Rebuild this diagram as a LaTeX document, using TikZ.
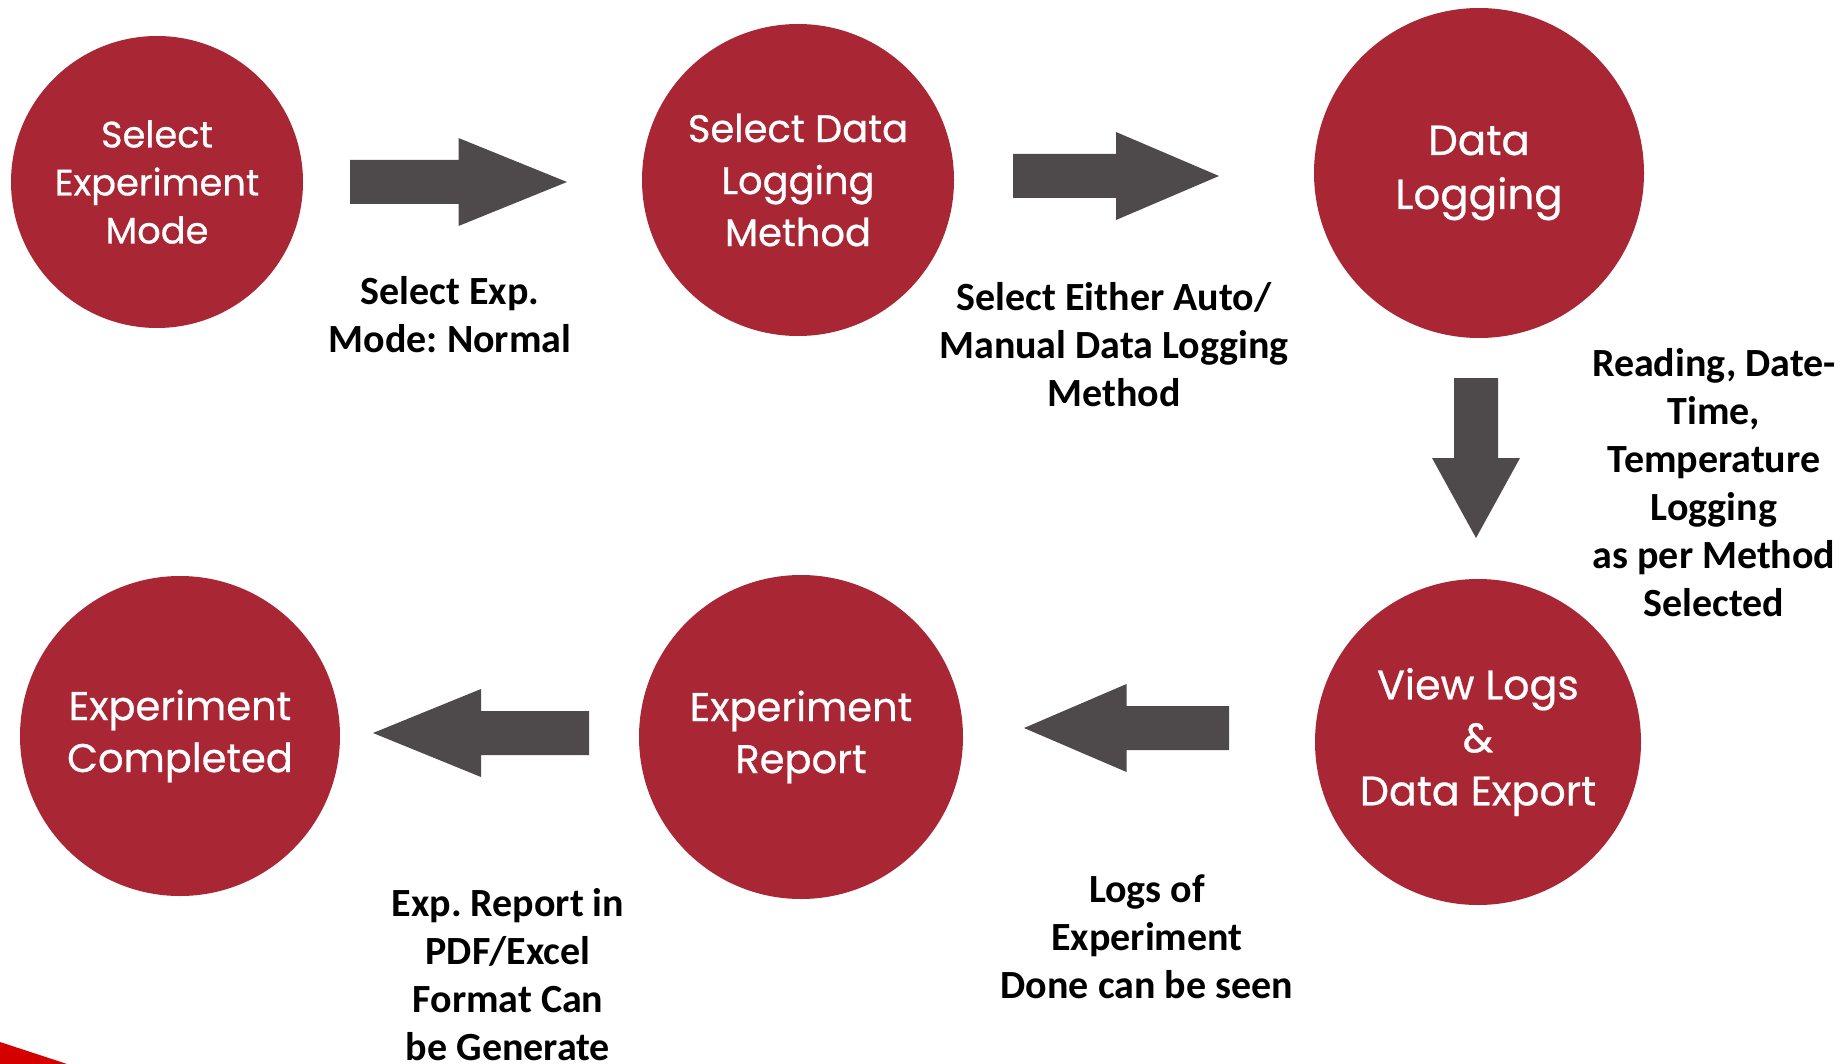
\documentclass[tikz,border=0pt]{standalone}
\usepackage{fontspec}
\setmainfont{Carlito}
\newfontfamily\circfont[FakeBold=0.6]{Poppins}
\definecolor{circred}{RGB}{169,39,52}
\definecolor{arrowgray}{RGB}{78,74,75}
\definecolor{cornerred}{RGB}{212,0,0}
\frenchspacing

\tikzset{
  stage/.style={circle,fill=circred,text=white,inner sep=0pt,align=center,
    font=\circfont\fontsize{20}{26}\selectfont},
  note/.style={align=center,font=\bfseries\fontsize{20}{24}\selectfont},
  pics/blockarrow/.style={code={
    \fill[arrowgray] (0,-22) -- (#1/2,-22) -- (#1/2,-44) -- (#1,0)
      -- (#1/2,44) -- (#1/2,22) -- (0,22) -- cycle;}}
}

\begin{document}
\begin{tikzpicture}[x=0.5pt,y=-0.5pt]
\useasboundingbox (0,0) rectangle (1841,1064);

% stages
\node[stage,minimum size=146pt,font=\circfont\fontsize{18.4}{24}\selectfont] (mode) at (157,182) {Select\\Experiment\\Mode};
\node[stage,minimum size=156pt,font=\circfont\fontsize{19.2}{26}\selectfont] (method) at (798,180) {Select Data\\Logging\\Method};
\node[stage,minimum size=165pt,font=\circfont\fontsize{21}{27}\selectfont] (logging) at (1479,173) {Data\\Logging};
\node[stage,minimum size=163pt,font=\circfont\fontsize{20.6}{26.5}\selectfont] (viewlogs) at (1478,742) {View Logs\\\&\\Data Export};
\node[stage,minimum size=162pt] (report) at (801,737) {Experiment\\Report};
\node[stage,minimum size=160pt] (done) at (180,736) {Experiment\\Completed};

% arrows
\pic at (350,182) {blockarrow=217};
\pic at (1013,176) {blockarrow=206};
\pic[rotate=-90] at (1476,378) {blockarrow=160};
\pic[rotate=180] at (1229,728) {blockarrow=205};
\pic[rotate=180] at (589,733) {blockarrow=216};

% notes
\node[note] (modelbl) at (450,315) {Select Exp.\\Mode: Normal};
\node[note] (methodlbl) at (1114,345) {Select Either Auto/\\Manual Data Logging\\Method};
\node[note] (logginglbl) at (1714,483) {Reading, Date-\\Time,\\Temperature\\Logging\\as per Method\\Selected};
\node[note] (viewlbl) at (1147,937) {Logs of\\Experiment\\Done can be seen};
\node[note] (reportlbl) at (508,975) {Exp. Report in\\PDF/Excel\\Format Can\\be Generate};

% corner
\fill[cornerred] (0,1042) -- (67,1064) -- (0,1064) -- cycle;
\end{tikzpicture}
\end{document}
